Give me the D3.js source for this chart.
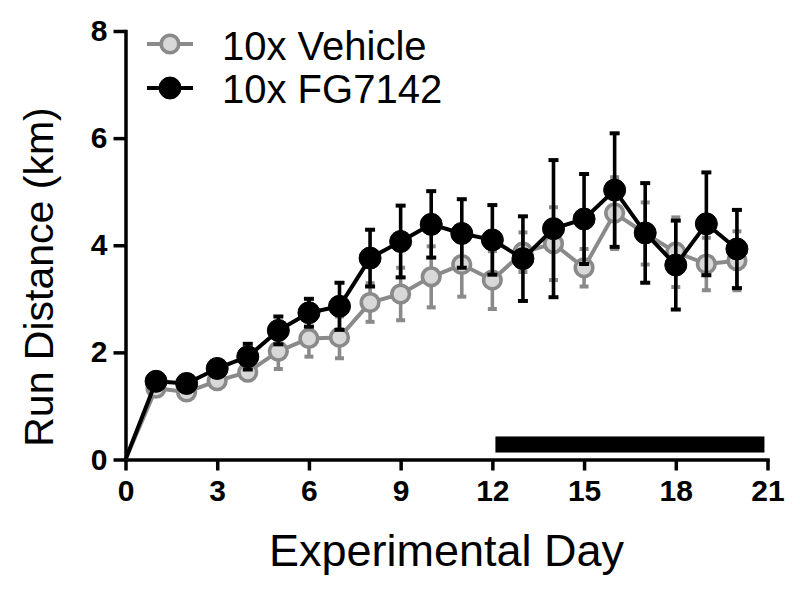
<!DOCTYPE html>
<html>
<head>
<meta charset="utf-8">
<script src="https://cdn.jsdelivr.net/npm/d3@7/dist/d3.min.js"></script>
<style>
  html, body { margin: 0; padding: 0; background: #fff; }
  svg { display: block; }
  text { font-family: "Liberation Sans", Arial, sans-serif; }
</style>
</head>
<body>
<svg id="chart" width="800" height="591"></svg>
<script>
// ---- data ----
const days = [0,1,2,3,4,5,6,7,8,9,10,11,12,13,14,15,16,17,18,19,20];
const vehicleMean = [0,1.33,1.26,1.47,1.63,2.02,2.26,2.28,2.93,3.09,3.41,3.64,3.35,3.87,4.03,3.58,4.60,4.22,3.87,3.65,3.71];
const vehicleSem  = [0,0.08,0.08,0.10,0.15,0.33,0.34,0.39,0.36,0.49,0.57,0.60,0.54,0.37,0.68,0.35,0.67,0.58,0.65,0.49,0.55];
const fgMean = [0,1.46,1.42,1.70,1.92,2.41,2.74,2.86,3.76,4.07,4.39,4.22,4.10,3.75,4.31,4.49,5.03,4.23,3.63,4.40,3.93];
const fgSem  = [0,0.08,0.08,0.10,0.24,0.26,0.26,0.44,0.53,0.67,0.62,0.64,0.65,0.79,1.28,0.84,1.06,0.93,0.83,0.96,0.73];
const seriesNames = ["10x Vehicle", "10x FG7142"];
const xTicks = [0,3,6,9,12,15,18,21];
const yTicks = [0,2,4,6,8];
const treatmentBarDays = [12.1, 20.9];
const treatmentBarKm = [0.13, 0.43];
const xTitle = "Experimental Day";
const yTitle = "Run Distance (km)";

// ---- layout ----
const svg = d3.select("#chart");
const x = d3.scaleLinear().domain([0, 21]).range([125.5, 767.5]);
const y = d3.scaleLinear().domain([0, 8]).range([459.5, 31]);

const GRAY = "#8a8a8a", GRAY_FILL = "#d8d8d8", BLACK = "#000";

// axes
const yAxis = d3.axisLeft(y).tickValues(yTicks).tickSize(12).tickSizeOuter(0).tickPadding(6).tickFormat(d3.format("d"));
const xAxis = d3.axisBottom(x).tickValues(xTicks).tickSize(11).tickSizeOuter(0).tickPadding(9).tickFormat(d3.format("d"));

function styleAxis(g) {
  g.select(".domain").attr("stroke", BLACK).attr("stroke-width", 3.5).attr("stroke-linecap", "square");
  g.selectAll(".tick line").attr("stroke", BLACK).attr("stroke-width", 3.5);
  g.selectAll(".tick text").attr("fill", BLACK)
    .style("font-family", "'Liberation Sans', Arial, sans-serif")
    .style("font-weight", "bold").style("font-size", "30px");
}
svg.append("g").attr("transform", `translate(0,${y(0)})`).call(xAxis).call(styleAxis);
svg.append("g").attr("transform", `translate(${x(0)},0)`).call(yAxis).call(styleAxis);

// treatment bar
svg.append("rect")
  .attr("x", x(treatmentBarDays[0]))
  .attr("width", x(treatmentBarDays[1]) - x(treatmentBarDays[0]))
  .attr("y", y(treatmentBarKm[1]))
  .attr("height", y(treatmentBarKm[0]) - y(treatmentBarKm[1]))
  .attr("fill", BLACK);

// series drawing
const line = d3.line().x(d => x(d.day)).y(d => y(d.mean));
function drawSeries(mean, sem, color, opts) {
  const data = days.map((d, i) => ({ day: d, mean: mean[i], sem: sem[i] }));
  const g = svg.append("g");
  g.append("path").datum(data).attr("d", line)
    .attr("fill", "none").attr("stroke", color).attr("stroke-width", 4).attr("stroke-linejoin", "round");
  const pts = data.filter(d => d.day > 0);
  const eb = g.selectAll(".eb").data(pts).enter().append("g");
  eb.append("line")
    .attr("x1", d => x(d.day)).attr("x2", d => x(d.day))
    .attr("y1", d => y(d.mean + d.sem)).attr("y2", d => y(d.mean - d.sem))
    .attr("stroke", color).attr("stroke-width", 3.6);
  [1, -1].forEach(s => {
    eb.append("line")
      .attr("x1", d => x(d.day) - opts.cap).attr("x2", d => x(d.day) + opts.cap)
      .attr("y1", d => y(d.mean + s * d.sem)).attr("y2", d => y(d.mean + s * d.sem))
      .attr("stroke", color).attr("stroke-width", 4);
  });
  g.selectAll(".pt").data(pts).enter().append("circle")
    .attr("cx", d => x(d.day)).attr("cy", d => y(d.mean))
    .attr("r", opts.r).attr("fill", opts.fill).attr("stroke", color).attr("stroke-width", opts.sw);
}
drawSeries(vehicleMean, vehicleSem, GRAY, { r: 8.8, fill: GRAY_FILL, sw: 3.6, cap: 4.5 });
drawSeries(fgMean, fgSem, BLACK, { r: 11, fill: BLACK, sw: 1, cap: 5 });

// legend
const legend = [
  { name: seriesNames[0], color: GRAY, fill: GRAY_FILL, r: 8.8, sw: 3.6, cy: 44, base: 60 },
  { name: seriesNames[1], color: BLACK, fill: BLACK, r: 11, sw: 1, cy: 88, base: 103 }
];
const lg = svg.append("g");
legend.forEach(l => {
  lg.append("line").attr("x1", 147).attr("x2", 193).attr("y1", l.cy).attr("y2", l.cy)
    .attr("stroke", l.color).attr("stroke-width", 4);
  lg.append("circle").attr("cx", 170).attr("cy", l.cy).attr("r", l.r)
    .attr("fill", l.fill).attr("stroke", l.color).attr("stroke-width", l.sw);
  lg.append("text").attr("x", 222).attr("y", l.base).text(l.name)
    .style("font-size", "40px").attr("fill", BLACK);
});

// axis titles
svg.append("text").attr("x", (x(0) + x(21)) / 2).attr("y", 566)
  .attr("text-anchor", "middle").style("font-size", "45px").attr("fill", BLACK).text(xTitle);
svg.append("text").attr("transform", `translate(53,${277}) rotate(-90)`)
  .attr("text-anchor", "middle").style("font-size", "41px").attr("fill", BLACK).text(yTitle);
</script>
</body>
</html>
